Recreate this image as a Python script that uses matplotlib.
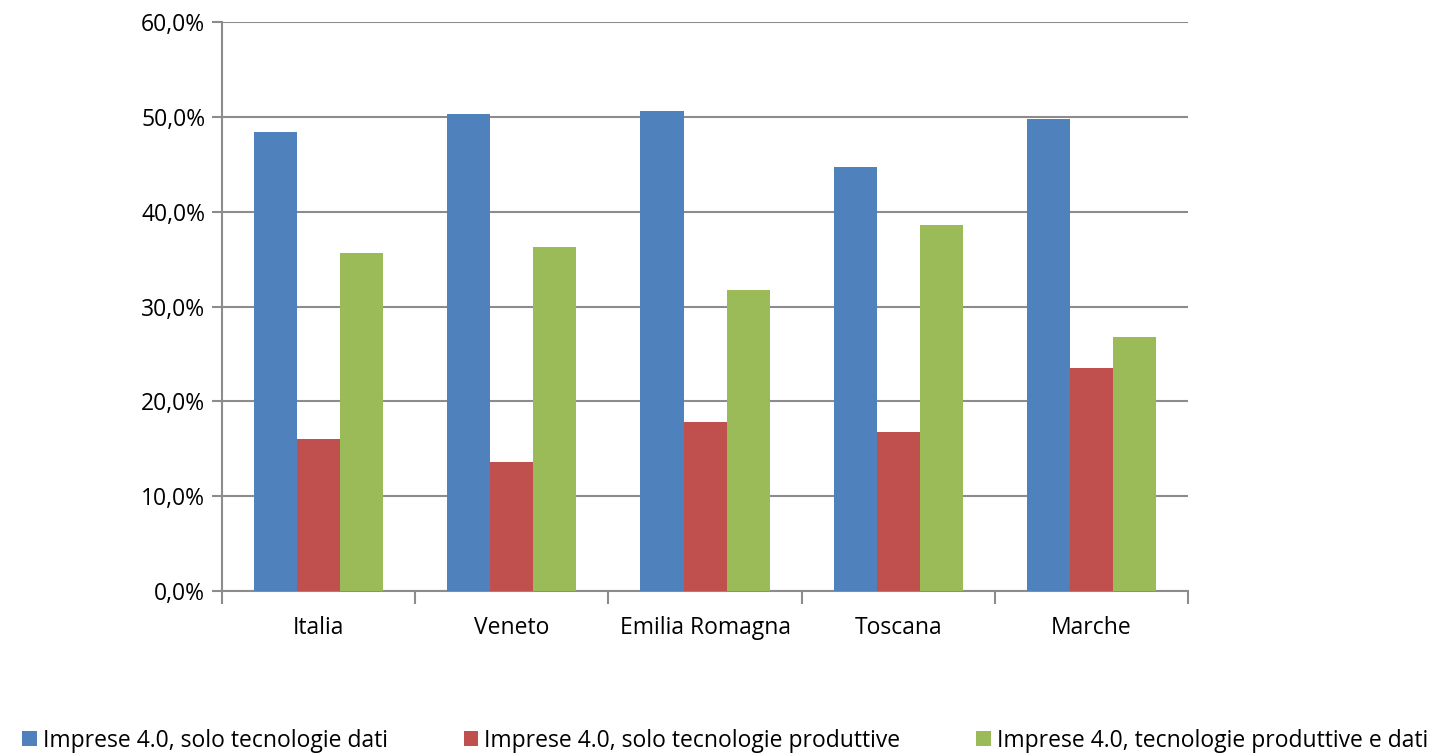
import numpy as np
import matplotlib.pyplot as plt
from matplotlib.ticker import FuncFormatter

regions = ['Italia', 'Veneto', 'Emilia Romagna', 'Toscana', 'Marche']
solo_dati = [48.4, 50.3, 50.6, 44.7, 49.8]
solo_produttive = [16.0, 13.6, 17.8, 16.8, 23.5]
produttive_e_dati = [35.6, 36.3, 31.7, 38.6, 26.8]
series_names = ['Imprese 4.0, solo tecnologie dati',
                'Imprese 4.0, solo tecnologie produttive',
                'Imprese 4.0, tecnologie produttive e dati']
colors = ['#4F81BD', '#C0504D', '#9BBB59']

plt.rcParams['font.family'] = ['Open Sans', 'DejaVu Sans']

fig = plt.figure(figsize=(14.56, 7.53), dpi=100)
ax = fig.add_axes([0.1525, 0.2151, 0.6635, 0.7557])

x = np.arange(len(regions))
w = 0.223
for i, (vals, c, name) in enumerate(zip([solo_dati, solo_produttive, produttive_e_dati], colors, series_names)):
    ax.bar(x + (i - 1) * w, vals, w, color=c, label=name, zorder=3)

ax.set_xlim(-0.5, len(regions) - 0.5)
ax.set_ylim(0, 60)
ax.set_yticks(np.arange(0, 61, 10))
ax.yaxis.set_major_formatter(FuncFormatter(lambda v, p: f'{v:.1f}%'.replace('.', ',')))
ax.grid(axis='y', color='#8c8c8c', linewidth=1.5, zorder=0)

ax.set_xticks(x)
ax.set_xticklabels(regions)
ax.tick_params(axis='x', length=0, pad=18, labelsize=16.5)
ax.set_xticks(np.arange(-0.5, len(regions)), minor=True)
ax.tick_params(axis='x', which='minor', length=9, width=1.5, color='#8c8c8c')
ax.tick_params(axis='y', length=7, width=1.5, color='#8c8c8c', labelsize=16.5, pad=5)

for s in ['top', 'right']:
    ax.spines[s].set_visible(False)
for s in ['left', 'bottom']:
    ax.spines[s].set_color('#8c8c8c')
    ax.spines[s].set_linewidth(1.5)

fig.legend(loc='lower left', bbox_to_anchor=(0.009, -0.012), ncol=3, frameon=False,
           fontsize=16.5, handlelength=0.65, handleheight=0.65, handletextpad=0.25,
           columnspacing=3.3, borderaxespad=0.0)

fig.savefig('out.png', dpi=100)
